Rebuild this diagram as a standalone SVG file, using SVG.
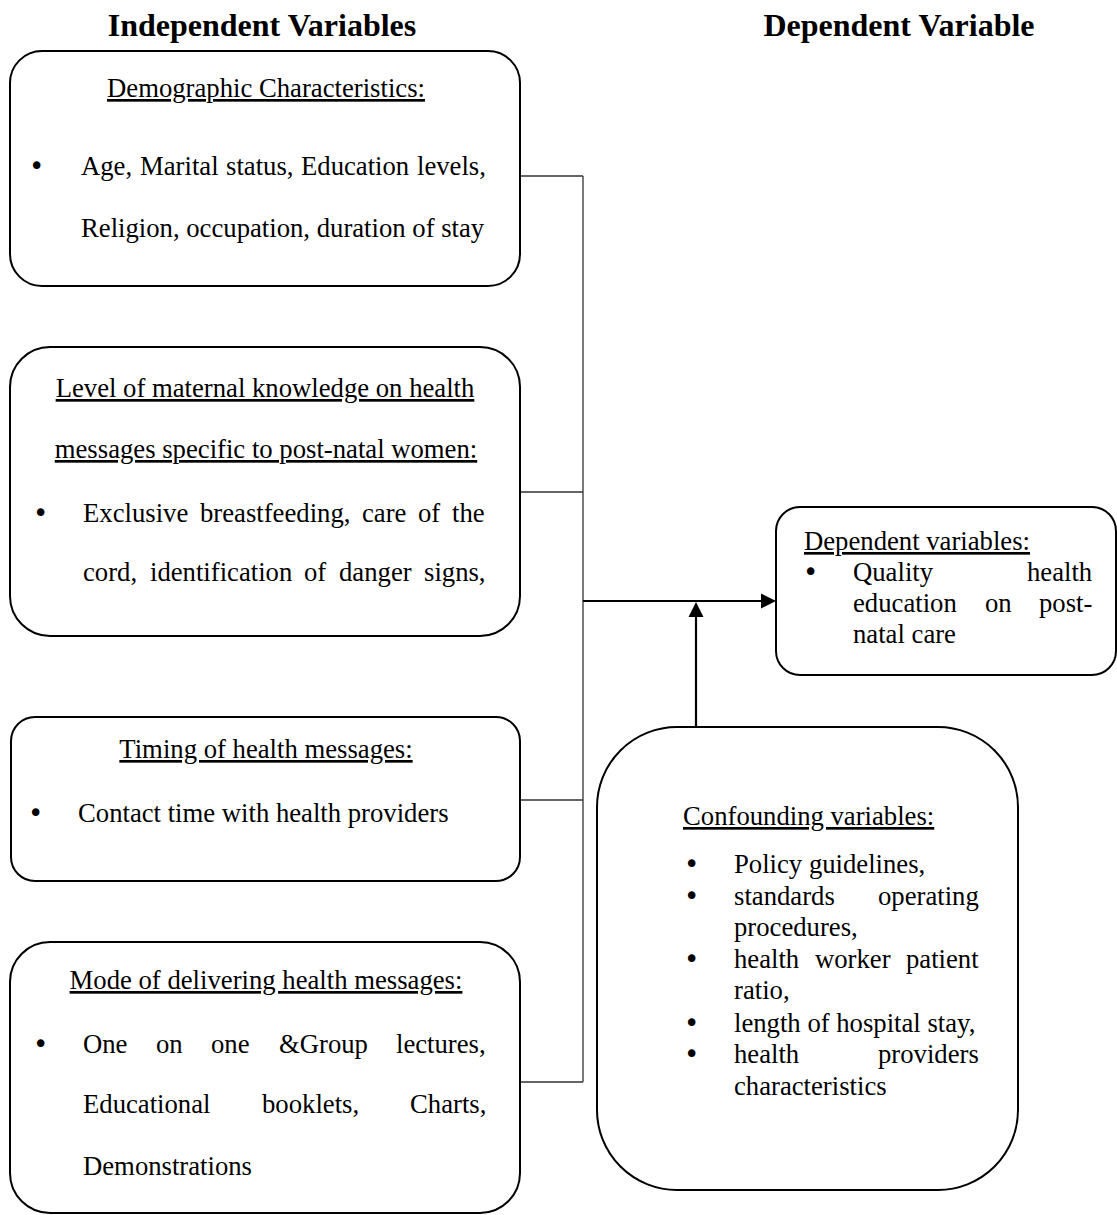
<svg xmlns="http://www.w3.org/2000/svg" width="1117" height="1215" viewBox="0 0 1117 1215">
<style>
text{font-family:"Liberation Serif","Times New Roman",serif;font-size:26.7px;fill:#000}
.title{font-weight:bold;font-size:32px;text-anchor:middle}
.head{text-anchor:middle;text-decoration:underline}
.bul{font-family:"DejaVu Sans",sans-serif;font-size:26px}
.box{fill:#fff;stroke:#000;stroke-width:2}
.thin{stroke:#333;stroke-width:1.3;fill:none}
.arr{stroke:#000;stroke-width:2.2;fill:none}
</style>
<text class="title" x="262" y="36">Independent Variables</text>
<text class="title" x="899" y="36">Dependent Variable</text>

<g id="connectors">
<path class="thin" d="M520,176 H583 M520,492 H583 M520,800 H583 M520,1082 H583 M583,176 V1082"/>
<line class="arr" x1="583" y1="601" x2="761" y2="601"/>
<path d="M761,593.5 L776,601 L761,608.5 Z" fill="#000"/>
<line class="arr" x1="696" y1="727" x2="696" y2="616"/>
<path d="M688.5,617 L696,602 L703.5,617 Z" fill="#000"/>
</g>

<g id="demographic">
<rect class="box" x="10" y="51" width="510" height="235" rx="32"/>
<text class="head" x="266" y="97">Demographic Characteristics:</text>
<text y="175"><tspan class="bul" x="29">•</tspan><tspan x="81">Age,</tspan><tspan x="140">Marital</tspan><tspan x="226">status,</tspan><tspan x="301">Education</tspan><tspan x="417">levels,</tspan></text>
<text x="81" y="237">Religion, occupation, duration of stay</text>
</g>

<g id="knowledge">
<rect class="box" x="10" y="347" width="510" height="289" rx="40"/>
<text class="head" x="265" y="397">Level of maternal knowledge on health</text>
<text class="head" x="266" y="458">messages specific to post-natal women:</text>
<text y="522"><tspan class="bul" x="33">•</tspan><tspan x="83">Exclusive</tspan><tspan x="200">breastfeeding,</tspan><tspan x="362">care</tspan><tspan x="418">of</tspan><tspan x="452">the</tspan></text>
<text y="581"><tspan x="83">cord,</tspan><tspan x="150">identification</tspan><tspan x="304">of</tspan><tspan x="339">danger</tspan><tspan x="424">signs,</tspan></text>
</g>

<g id="timing">
<rect class="box" x="11" y="717" width="509" height="164" rx="24"/>
<text class="head" x="266" y="758">Timing of health messages:</text>
<text y="822"><tspan class="bul" x="28">•</tspan><tspan x="78">Contact time with health providers</tspan></text>
</g>

<g id="mode">
<rect class="box" x="10" y="942" width="510" height="271" rx="40"/>
<text class="head" x="266" y="989">Mode of delivering health messages:</text>
<text y="1053"><tspan class="bul" x="33">•</tspan><tspan x="83">One</tspan><tspan x="156">on</tspan><tspan x="211">one</tspan><tspan x="279">&amp;Group</tspan><tspan x="396">lectures,</tspan></text>
<text y="1113"><tspan x="83">Educational</tspan><tspan x="262">booklets,</tspan><tspan x="410">Charts,</tspan></text>
<text x="83" y="1175">Demonstrations</text>
</g>

<g id="dependent">
<rect class="box" x="776" y="507" width="340" height="168" rx="24"/>
<text x="804" y="550" text-decoration="underline">Dependent variables:</text>
<text y="581"><tspan class="bul" x="803">•</tspan><tspan x="853">Quality</tspan><tspan x="1027">health</tspan></text>
<text y="612"><tspan x="853">education</tspan><tspan x="985">on</tspan><tspan x="1039">post-</tspan></text>
<text x="853" y="643">natal care</text>
</g>

<g id="confounding">
<rect class="box" x="597" y="727" width="421" height="463" rx="80"/>
<text x="683" y="825" text-decoration="underline">Confounding variables:</text>
<text y="873"><tspan class="bul" x="684">•</tspan><tspan x="734">Policy guidelines,</tspan></text>
<text y="905"><tspan class="bul" x="684">•</tspan><tspan x="734">standards</tspan><tspan x="878">operating</tspan></text>
<text x="734" y="936">procedures,</text>
<text y="968"><tspan class="bul" x="684">•</tspan><tspan x="734">health</tspan><tspan x="815">worker</tspan><tspan x="906">patient</tspan></text>
<text x="734" y="999">ratio,</text>
<text y="1032"><tspan class="bul" x="684">•</tspan><tspan x="734">length of hospital stay,</tspan></text>
<text y="1063"><tspan class="bul" x="684">•</tspan><tspan x="734">health</tspan><tspan x="878">providers</tspan></text>
<text x="734" y="1095">characteristics</text>
</g>
</svg>
